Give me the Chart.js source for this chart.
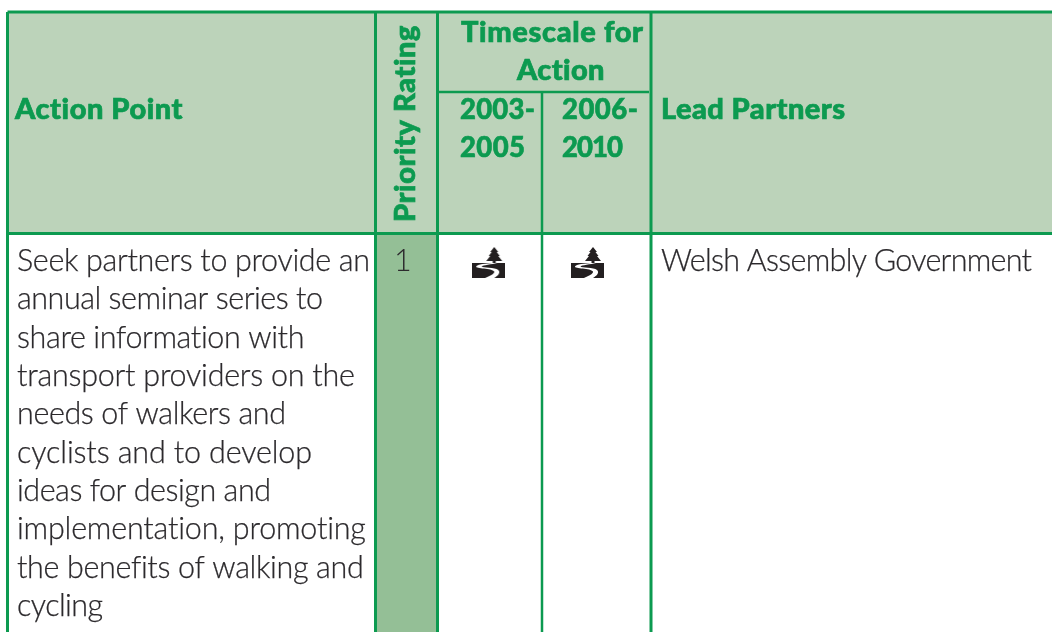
<!DOCTYPE html>
<html>
<head>
<meta charset="utf-8">
<style>
  html, body { margin: 0; padding: 0; background: #fff; overflow: hidden; }
  #wrap { width: 1052px; height: 632px; }
</style>
<script src="https://cdn.jsdelivr.net/npm/chart.js@4"></script>
</head>
<body>
<div id="wrap"><canvas id="myChart" width="1052" height="632"></canvas></div>
<script>
// table content
const actionPoint = ['Seek partners to provide an', 'annual seminar series to', 'share information with',
    'transport providers on the', 'needs of walkers and', 'cyclists and to develop',
    'ideas for design and', 'implementation, promoting', 'the benefits of walking and', 'cycling'];
const priorityRating = ['1'];
const leadPartners = ['Welsh Assembly Government'];
const timescaleTitle = ['Timescale for', 'Action'];
const period1 = ['2003-', '2005'];
const period2 = ['2006-', '2010'];
const timescaleFlags = [1, 1];

// table geometry, in the units of the two linear scales
const colEdges = [7.5, 375.5, 437.5, 542, 651, 1052];
const rowEdges = [12, 92, 233.5, 632];
// right edge of each action point line, the type in the original runs wider or tighter per line
const actionPointEnds = [370, 323, 305, 355, 286, 312, 271, 367, 363, 103];

const green = '#0c9a50';
const headFill = '#bcd3ba';
const ratingFill = '#94bf96';
const ink = '#2c2a2d';

function cell(x0, x1, y0, y1, color) {
    return {
        type: 'line', order: 5, data: [{x: x0, y: y1}, {x: x1, y: y1}], fill: {target: {value: y0}, above: color, below: color},
        backgroundColor: color, borderWidth: 0, pointRadius: 0, clip: false
    };
}

function rule(x0, y0, x1, y1, width) {
    return {
        type: 'line', order: 1, data: [{x: x0, y: y0}, {x: x1, y: y1}], borderColor: green,
        borderWidth: width, pointRadius: 0, fill: false, clip: false
    };
}

function icon() {
    let c = document.createElement('canvas');
    c.width = 33; c.height = 31;
    let g = c.getContext('2d');
    g.fillStyle = '#231f20';
    // tree
    g.beginPath();
    g.moveTo(22, 0); g.lineTo(26, 5); g.lineTo(24.5, 5); g.lineTo(27.5, 9); g.lineTo(26, 9); g.lineTo(30, 14);
    g.lineTo(23.5, 14); g.lineTo(23.5, 17); g.lineTo(20.5, 17); g.lineTo(20.5, 14); g.lineTo(14, 14);
    g.lineTo(18, 9); g.lineTo(16.5, 9); g.lineTo(19.5, 5); g.lineTo(18, 5);
    g.closePath(); g.fill();
    // ground
    g.fillRect(0, 16, 33, 15);
    // road
    g.globalCompositeOperation = 'destination-out';
    g.beginPath();
    g.moveTo(25, 16);
    g.lineTo(20, 16);
    g.bezierCurveTo(14, 16.5, 5, 17, 4, 19.5);
    g.bezierCurveTo(3, 22, 20, 21, 22, 24.5);
    g.bezierCurveTo(22.5, 27, 17, 29, 13, 31);
    g.lineTo(22, 31);
    g.bezierCurveTo(25, 29, 29, 26, 26, 23);
    g.bezierCurveTo(23, 20, 10, 21, 9.5, 19.5);
    g.bezierCurveTo(10, 18, 20, 17.5, 25, 16);
    g.closePath();
    g.fill();
    return c;
}

const iconImg = icon();

const tableText = {
    id: 'tableText',
    afterDatasetsDraw(chart) {
        let ctx = chart.ctx;
        let sx = chart.scales.x, sy = chart.scales.y;
        const headFont = '900 29px Lato';
        const yearFont = '900 27.5px Lato';
        const bodyFont = '300 30.5px Lato';

        // spacing that makes str run the given width
        const spacing = (str, width) => {
            ctx.letterSpacing = '0px';
            return (width - ctx.measureText(str).width) / (str.length - 1);
        };
        const draw = (str, x, right, y, font, color, weight) => {
            ctx.font = font;
            ctx.fillStyle = color;
            ctx.strokeStyle = color;
            ctx.lineWidth = weight;
            ctx.letterSpacing = spacing(str, right - x) + 'px';
            ctx.fillText(str, sx.getPixelForValue(x), sy.getPixelForValue(y));
            ctx.strokeText(str, sx.getPixelForValue(x), sy.getPixelForValue(y));
        };
        const body = (str, x, right, y) => draw(str, x, right, y, bodyFont, ink, 0.25);
        const head = (str, x, right, y) => draw(str, x, right, y, headFont, green, 0.7);
        const year = (str, x, right, y) => draw(str, x, right, y, yearFont, green, 0.6);

        ctx.save();
        ctx.textAlign = 'left';
        ctx.textBaseline = 'alphabetic';

        head('Action Point', 15, 183, 119);
        head('Lead Partners', 661, 845, 119);
        head(timescaleTitle[0], 461, 643, 42);
        head(timescaleTitle[1], 517, 605, 80);
        year(period1[0], 460, 535, 119);
        year(period1[1], 460, 525, 157);
        year(period2[0], 562, 638, 119);
        year(period2[1], 562, 623, 157);

        actionPoint.forEach((t, i) => body(t, 17, actionPointEnds[i], 271 + i * 38.33));
        ctx.font = bodyFont;
        ctx.letterSpacing = '0px';
        ctx.fillStyle = ink;
        ctx.fillText(priorityRating[0], sx.getPixelForValue(394), sy.getPixelForValue(271));
        body(leadPartners[0], 661, 1032, 271);

        // rotated column heading
        ctx.translate(sx.getPixelForValue(415), sy.getPixelForValue(222));
        ctx.rotate(-Math.PI / 2);
        ctx.font = headFont;
        ctx.fillStyle = green;
        ctx.strokeStyle = green;
        ctx.lineWidth = 0.7;
        ctx.letterSpacing = spacing('Priority Rating', 197) + 'px';
        ctx.fillText('Priority Rating', 0, 0);
        ctx.strokeText('Priority Rating', 0, 0);
        ctx.restore();
    }
};

const [c0, c1, c2, c3, c4, c5] = colEdges;
const [r0, r1, r2, r3] = rowEdges;

const datasets = [
    cell(c0, c5, r0, r2, headFill),
    cell(c1, c2, r2, r3, ratingFill),
    rule(c0, r0, c5, r0, 3),
    rule(c0, r2, c5, r2, 3),
    rule(c2, r1, c4 - 2, r1, 2.5),
    rule(c0, r0, c0, r3, 3),
    rule(c1, r0, c1, r3, 3),
    rule(c2, r0, c2, r3, 3),
    rule(c3, r1, c3, r3, 2.5),
    rule(c4, r0, c4, r3, 3),
    {
        type: 'scatter',
        order: 0,
        data: timescaleFlags.map((f, i) => ({x: (colEdges[i + 2] + colEdges[i + 3]) / 2 - (i ? 9 : 1), y: 262.5})),
        pointStyle: iconImg, pointRadius: 17, clip: false
    }
];

var myChart = new Chart(document.getElementById('myChart').getContext('2d'), {
    type: 'scatter',
    data: {datasets: datasets},
    options: {
        responsive: false,
        animation: false,
        layout: {padding: 0, autoPadding: false},
        plugins: {legend: {display: false}, tooltip: {enabled: false}, title: {display: false}},
        scales: {
            x: {type: 'linear', min: 0, max: 1052, display: false},
            y: {type: 'linear', min: 0, max: 632, reverse: true, display: false}
        }
    },
    plugins: [tableText]
});
</script>
</body>
</html>
